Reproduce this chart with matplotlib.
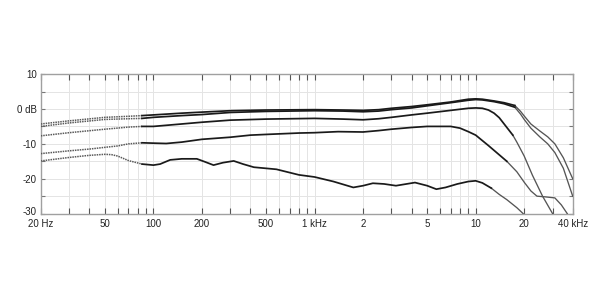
import matplotlib
matplotlib.use("Agg")
import matplotlib.pyplot as plt
import matplotlib.transforms as mtransforms

plt.rcParams['font.family'] = ['Liberation Sans', 'DejaVu Sans']

# ---- data (frequency in Hz, level in dB) ----
freq_a = [20, 30, 50, 70, 85, 100, 150, 200, 300, 500, 1000, 1500, 2000, 2500, 3000, 4000, 5000,
          7000, 9000, 10000, 11000, 13000, 15000, 17500, 19000, 20000, 22000, 25000, 28000, 31000, 35000, 40000]
db_a = [-4.3, -3.4, -2.4, -2.1, -1.9, -1.7, -1.2, -0.9, -0.5, -0.3, -0.2, -0.3, -0.4, -0.2, 0.2, 0.7, 1.2,
        2.0, 2.8, 2.9, 2.8, 2.3, 1.8, 1.0, -0.7, -2.0, -4.3, -6.3, -8.0, -10.0, -14.0, -20.0]

freq_b = [20, 30, 50, 70, 85, 100, 150, 200, 300, 500, 1000, 1500, 2000, 2500, 3000, 4000, 5000,
          7000, 9000, 10000, 11000, 13000, 15000, 17500, 19000, 20000, 22000, 25000, 28000, 31000, 35000, 40000]
db_b = [-5.0, -4.0, -3.0, -2.8, -2.7, -2.4, -1.9, -1.6, -1.0, -0.7, -0.5, -0.6, -0.8, -0.6, -0.2, 0.3, 0.9,
        1.8, 2.5, 2.7, 2.6, 2.1, 1.5, 0.5, -1.5, -3.0, -5.5, -8.0, -10.0, -12.5, -17.0, -25.0]

freq_c = [20, 30, 50, 70, 85, 100, 150, 200, 300, 500, 1000, 1500, 2000, 2500, 3000, 4000, 5000,
          7000, 9000, 10000, 11000, 12000, 13000, 14000, 17000, 18000, 20000, 22500, 26000, 30000]
db_c = [-7.7, -6.8, -5.8, -5.2, -5.0, -5.0, -4.3, -3.8, -3.2, -2.9, -2.7, -2.9, -3.1, -2.8, -2.4, -1.7, -1.2,
        -0.4, 0.2, 0.3, 0.2, -0.3, -1.2, -2.5, -7.5, -9.5, -13.5, -19.0, -25.0, -30.0]

freq_d = [20, 30, 40, 50, 60, 70, 85, 100, 120, 150, 200, 300, 400, 500, 800, 1000, 1400, 2000, 2500,
          3000, 4000, 5000, 7000, 8000, 9000, 10000, 12000, 15600, 18000, 20000, 22000, 24000, 27000,
          31000, 34000, 37000]
db_d = [-12.8, -12.0, -11.5, -11.0, -10.6, -10.0, -9.7, -9.8, -9.9, -9.5, -8.7, -8.1, -7.5, -7.3, -6.9,
        -6.8, -6.5, -6.6, -6.2, -5.8, -5.3, -5.0, -5.0, -5.5, -6.5, -7.5, -10.5, -15.0, -18.0, -21.0,
        -23.5, -25.0, -25.2, -25.5, -27.5, -30.0]

freq_e = [20, 30, 40, 50, 55, 60, 70, 85, 100, 110, 127, 150, 186, 210, 236, 270, 315, 360, 420, 580,
          800, 1000, 1310, 1740, 2000, 2300, 2700, 3200, 4200, 5000, 5700, 6500, 7700, 9000, 10000,
          11000, 12500, 14000, 15600, 18000, 19700]
db_e = [-14.9, -13.9, -13.3, -13.0, -13.1, -13.5, -14.8, -15.8, -16.1, -15.8, -14.6, -14.3, -14.3,
        -15.2, -16.1, -15.4, -14.9, -15.8, -16.7, -17.3, -18.9, -19.5, -20.8, -22.5, -22.0, -21.3,
        -21.5, -22.0, -21.1, -22.0, -23.0, -22.5, -21.5, -20.8, -20.6, -21.2, -22.7, -24.5, -26.0,
        -28.3, -30.0]

curves = [(freq_a, db_a, 17500), (freq_b, db_b, 17500), (freq_c, db_c, 17000),
          (freq_d, db_d, 15600), (freq_e, db_e, 12500)]
low_split = 85

xtick_vals = [20, 30, 40, 50, 60, 70, 80, 90, 100, 200, 300, 400, 500, 600, 700, 800, 900,
              1000, 2000, 3000, 4000, 5000, 6000, 7000, 8000, 9000, 10000, 20000, 30000, 40000]
xtick_labels = {20: '20 Hz', 50: '50', 100: '100', 200: '200', 500: '500', 1000: '1 kHz',
                2000: '2', 5000: '5', 10000: '10', 20000: '20', 40000: '40 kHz'}
ytick_vals = [10, 5, 0, -5, -10, -15, -20, -25, -30]
ytick_labels = {10: '10', 0: '0 dB', -10: '-10', -20: '-20', -30: '-30'}

# ---- figure ----
fig = plt.figure(figsize=(6, 3), dpi=100)
ax = fig.add_axes([0.068, 0.288, 0.8865, 0.465])
ax.set_xscale('log')
ax.set_xlim(20, 40000)
ax.set_ylim(-30, 10)

for f, d, hi in curves:
    lo_f = [x for x in f if x <= low_split]
    lo_d = d[:len(lo_f)]
    mid_idx = [i for i, x in enumerate(f) if low_split <= x <= hi]
    hi_idx = [i for i, x in enumerate(f) if x >= hi]
    ax.plot(lo_f, lo_d, color='#5a5a5a', lw=1.1, ls=(0, (1.0, 0.6)), solid_capstyle='butt', zorder=3)
    ax.plot([f[i] for i in mid_idx], [d[i] for i in mid_idx], color='#1a1a1a', lw=1.25, zorder=4)
    ax.plot([f[i] for i in hi_idx], [d[i] for i in hi_idx], color='#555555', lw=0.95, zorder=3)

ax.set_xticks(xtick_vals)
ax.set_xticklabels([xtick_labels.get(v, '') for v in xtick_vals])
ax.xaxis.set_minor_locator(matplotlib.ticker.NullLocator())
ax.set_yticks(ytick_vals)
ax.set_yticklabels([ytick_labels.get(v, '') for v in ytick_vals])

ax.grid(True, color='#e4e4e4', lw=0.7, zorder=0)
ax.set_axisbelow(True)
ax.tick_params(axis='x', which='both', direction='in', top=True, bottom=True, length=4,
               width=0.8, color='#555555', labelsize=7, pad=4, labelcolor='#222222')
ax.tick_params(axis='y', which='both', direction='in', left=True, right=True, length=3,
               width=0.8, color='#777777', labelsize=7, pad=3, labelcolor='#222222')
for s in ax.spines.values():
    s.set_color('#a0a0a0')
    s.set_linewidth(1.0)

# nudge the bottom y label up slightly so it clears "20 Hz"
shift = mtransforms.ScaledTranslation(0, 2 / 72, fig.dpi_scale_trans)
for lbl in ax.get_yticklabels():
    if lbl.get_text() == '-30':
        lbl.set_transform(lbl.get_transform() + shift)

fig.savefig('out.png', dpi=100)
